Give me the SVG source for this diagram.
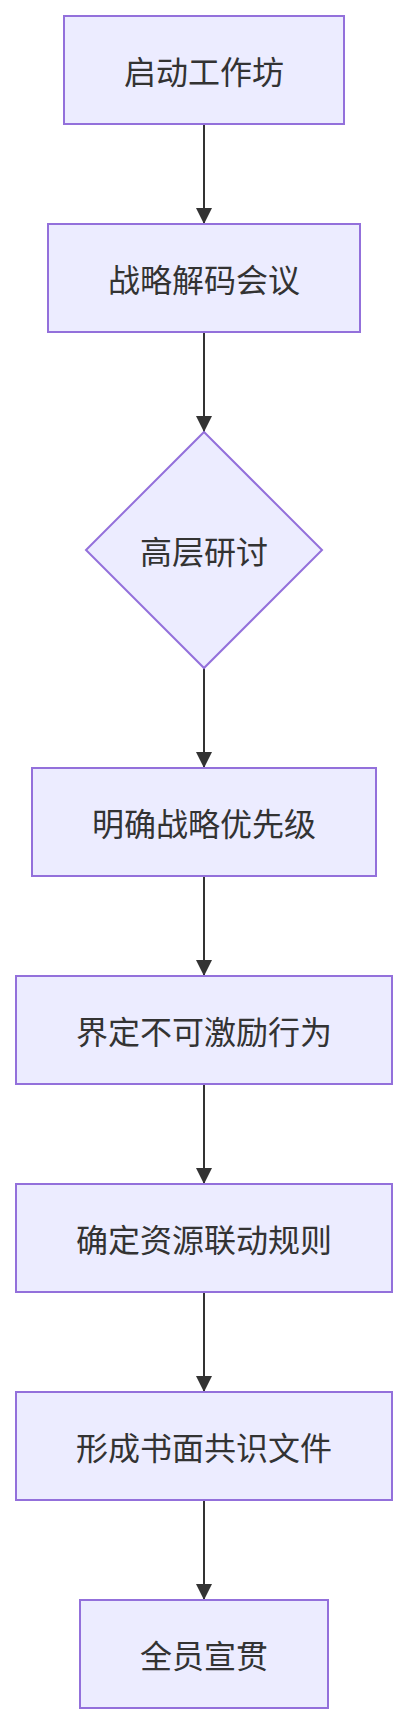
<svg xmlns="http://www.w3.org/2000/svg" width="408" height="1724" viewBox="0 0 408 1724">
<style>
.node rect, .node polygon { fill: #ECECFF; stroke: #9370DB; stroke-width: 2px; }
.node text { font-family: "Noto Sans CJK SC", "Liberation Sans", sans-serif; font-size: 32px; fill: #333333; text-anchor: middle; dominant-baseline: central; }
.edge { stroke: #333333; stroke-width: 2px; fill: none; }
</style>
<defs>
<marker id="arrow" viewBox="0 0 10 10" refX="10" refY="5" markerUnits="userSpaceOnUse" markerWidth="16" markerHeight="16" orient="auto">
<path d="M0,0 L10,5 L0,10 z" fill="#333333"/>
</marker>
</defs>
<g id="connectors">
<line class="edge" x1="204" y1="124" x2="204" y2="224" marker-end="url(#arrow)"/>
<line class="edge" x1="204" y1="332" x2="204" y2="432" marker-end="url(#arrow)"/>
<line class="edge" x1="204" y1="668" x2="204" y2="768" marker-end="url(#arrow)"/>
<line class="edge" x1="204" y1="876" x2="204" y2="976" marker-end="url(#arrow)"/>
<line class="edge" x1="204" y1="1084" x2="204" y2="1184" marker-end="url(#arrow)"/>
<line class="edge" x1="204" y1="1292" x2="204" y2="1392" marker-end="url(#arrow)"/>
<line class="edge" x1="204" y1="1500" x2="204" y2="1600" marker-end="url(#arrow)"/>
</g>
<g id="n1" class="node"><rect x="64" y="16" width="280" height="108"/><text x="204" y="70">启动工作坊</text></g>
<g id="n2" class="node"><rect x="48" y="224" width="312" height="108"/><text x="204" y="278">战略解码会议</text></g>
<g id="n3" class="node"><polygon points="204,432 322,550 204,668 86,550"/><text x="204" y="550">高层研讨</text></g>
<g id="n4" class="node"><rect x="32" y="768" width="344" height="108"/><text x="204" y="822">明确战略优先级</text></g>
<g id="n5" class="node"><rect x="16" y="976" width="376" height="108"/><text x="204" y="1030">界定不可激励行为</text></g>
<g id="n6" class="node"><rect x="16" y="1184" width="376" height="108"/><text x="204" y="1238">确定资源联动规则</text></g>
<g id="n7" class="node"><rect x="16" y="1392" width="376" height="108"/><text x="204" y="1446">形成书面共识文件</text></g>
<g id="n8" class="node"><rect x="80" y="1600" width="248" height="108"/><text x="204" y="1654">全员宣贯</text></g>
</svg>
